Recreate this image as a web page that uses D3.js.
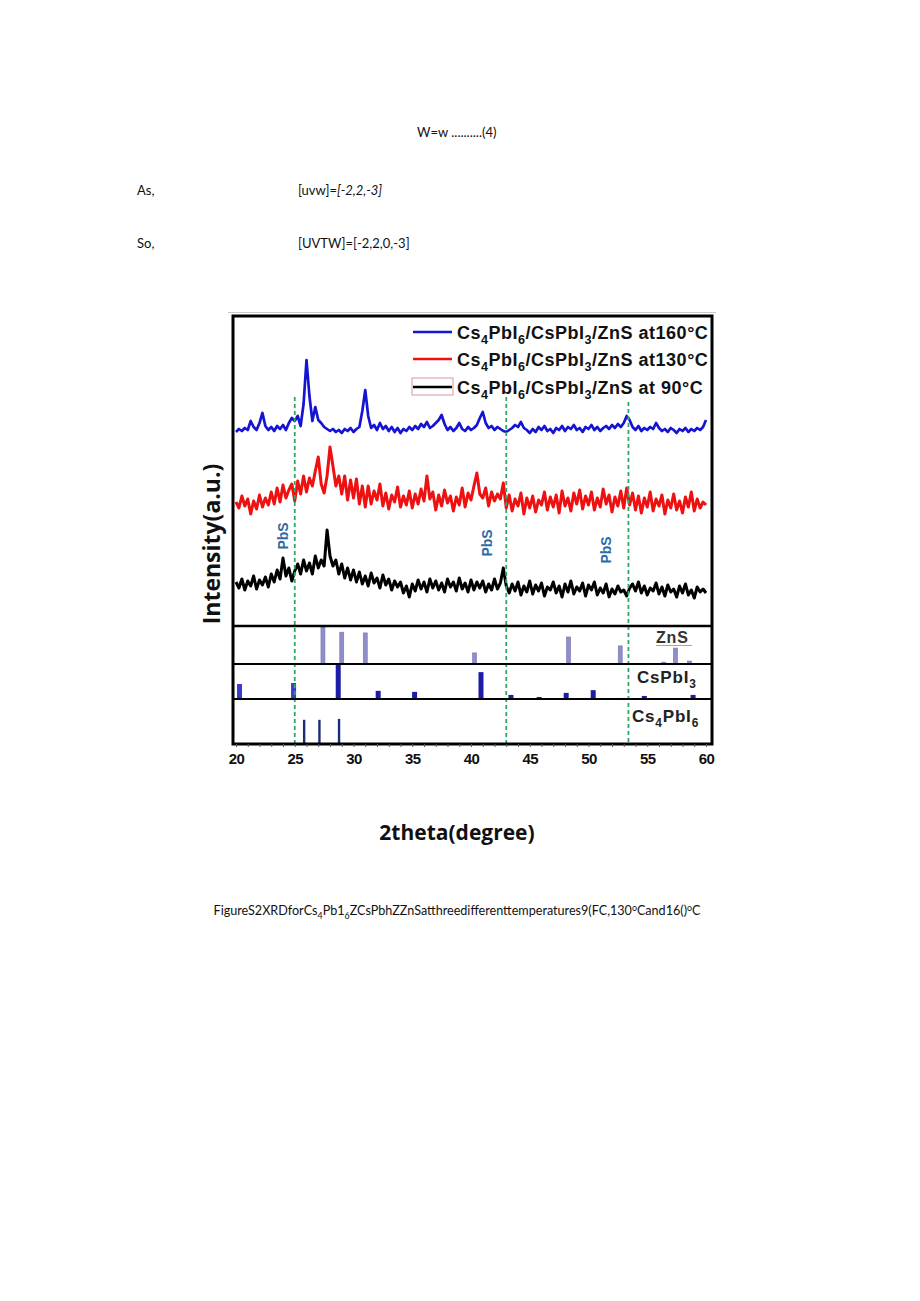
<!DOCTYPE html>
<html>
<head>
<meta charset="utf-8">
<script src="https://cdn.jsdelivr.net/npm/d3@7"></script>
<style>
  html, body { margin: 0; padding: 0; background: #ffffff; }
  svg { display: block; }
</style>
</head>
<body>
<svg id="page" width="920" height="1301"></svg>
<script>
// ---------------- DATA ----------------
const twoThetaStart = 20;
const twoThetaStep = 0.25;

// XRD traces (arbitrary intensity units, already offset for stacking)
const blue160 = [
  194,197,195,198,196,205,199,196,203,213,200,196,199,195,200,197,201,196,203,208,
  205,210,200,222,266,230,205,219,206,203,199,197,195,197,194,196,193,197,195,198,
  194,197,199,215,236,210,198,201,196,203,197,200,195,199,194,198,193,197,195,199,
  196,200,197,202,199,204,198,200,203,206,211,202,196,199,195,198,203,197,195,199,
  196,198,201,208,214,203,198,200,196,199,197,195,194,196,198,201,199,204,198,196,
  193,197,194,199,196,200,195,197,193,198,196,200,195,199,197,201,196,198,194,199,
  197,201,196,199,195,198,200,197,201,198,202,199,203,210,206,199,196,200,195,198,
  196,199,197,203,198,195,197,194,198,196,193,197,195,198,194,197,195,198,196,199,
  206
];
const red130 = [
  124,118,130,120,127,112,125,117,131,119,128,121,134,122,138,124,141,128,136,142,
  125,145,132,150,134,148,140,155,169,142,133,150,179,160,140,150,132,150,126,146,
  128,147,122,140,119,140,122,135,126,142,120,133,117,131,124,139,119,130,121,135,
  118,132,122,137,125,150,127,134,116,131,120,136,123,130,115,129,121,138,119,133,
  126,140,153,132,128,138,120,134,125,132,127,143,118,131,115,127,120,133,112,128,
  118,130,114,126,121,134,116,129,119,131,113,135,120,128,115,133,122,136,117,130,
  121,134,116,128,119,137,122,131,114,129,120,135,118,138,121,133,116,130,113,128,
  119,134,115,127,120,131,112,126,118,132,116,125,113,129,119,134,115,127,118,124,
  121
];
const black90 = [
  44,38,47,36,45,40,50,37,46,41,49,39,52,44,56,47,68,50,58,45,
  55,62,52,66,55,63,52,70,58,66,60,96,70,60,66,52,62,48,58,46,
  56,44,54,42,50,40,53,43,48,38,51,41,47,36,45,39,44,33,40,29,
  42,35,46,37,44,34,47,38,45,36,43,34,47,39,44,35,48,37,43,34,
  46,36,44,38,45,34,42,36,47,37,43,58,40,33,42,35,44,31,40,34,
  45,32,41,35,43,30,39,36,44,33,40,29,42,34,45,32,39,35,43,30,
  41,36,44,31,38,33,42,29,37,32,40,34,36,30,38,42,35,44,33,40,
  31,38,35,43,32,39,30,41,34,37,29,40,33,42,31,36,28,39,34,37,
  33
];

// Reference patterns (relative intensity, %)
const znsPos = [27.4, 29.0, 31.0, 40.3, 48.3, 52.7, 56.4, 57.4, 58.6];
const znsInt = [100, 86, 84, 30, 73, 49, 5, 43, 8];
const cspbi3Pos = [20.3, 24.9, 28.7, 32.1, 35.2, 40.85, 43.4, 45.8, 48.1, 50.4, 52.6, 54.75, 58.9];
const cspbi3Int = [44, 47, 100, 24, 21, 79, 12, 6, 18, 26, 3, 9, 12];
const cs4pbi6Pos = [25.8, 27.1, 28.77];
const cs4pbi6Int = [55, 55, 57];

const pbsLines = [25, 43, 53.4];
const pbsLabelPos = [24.0, 41.4, 51.5];
const pbsLabelY = [90, 83, 76];

const xTickLabels = [20, 25, 30, 35, 40, 45, 50, 55, 60];
const seriesNames = ["160", "130", " 90"];
const seriesColors = ["#1414d2", "#ee1111", "#000000"];

// ---------------- DRAW ----------------
const svg = d3.select("#page");

function addRich(textSel, parts, fs) {
  let cur = 0;
  parts.forEach(([str, kind]) => {
    const shift = kind === "sub" ? fs * 0.3 : kind === "sup" ? -fs * 0.35 : 0;
    const ts = textSel.append("tspan").attr("dy", shift - cur).text(str);
    if (kind) ts.attr("font-size", fs * 0.7);
    cur = shift;
  });
}

// Body text
const body = svg.append("g").attr("font-family", "Lato, 'Open Sans', sans-serif").attr("font-size", 13).attr("fill", "#111");
body.append("text").attr("x", 417).attr("y", 137).text("W=w ..........(4)");
body.append("text").attr("x", 137).attr("y", 195).text("As,");
const uvw = body.append("text").attr("x", 298).attr("y", 195);
uvw.append("tspan").text("[uvw]=");
uvw.append("tspan").attr("font-style", "italic").text("[-2,2,-3]");
body.append("text").attr("x", 137).attr("y", 248).text("So,");
body.append("text").attr("x", 298).attr("y", 248).text("[UVTW]=[-2,2,0,-3]");

// Caption
const cap = svg.append("text").attr("x", 457).attr("y", 915).attr("text-anchor", "middle")
  .attr("font-family", "Lato, 'Open Sans', sans-serif").attr("font-size", 12.6).attr("fill", "#111");
addRich(cap, [["FigureS2XRDforCs"], ["4", "sub"], ["Pb1"], ["6", "sub"],
  ["ZCsPbhZZnSatthreedifferenttemperatures9(FC,130"], ["o", "sup"], ["Cand16()"], ["o", "sup"], ["C"]], 12.6);

// Scales
const x = d3.scaleLinear().domain([20, 60]).range([236, 706]);
const yMain = d3.scaleLinear().domain([0, 310]).range([626, 316]);
const panels = [
  { top: 626, bottom: 664 },
  { top: 664, bottom: 699 },
  { top: 699, bottom: 744 }
];
const yZns = d3.scaleLinear().domain([0, 100]).range([664, 627]);
const yCs = d3.scaleLinear().domain([0, 100]).range([699, 665]);
const yCs4 = d3.scaleLinear().domain([0, 100]).range([744, 700]);

// Image top border line
svg.append("line").attr("x1", 228).attr("x2", 716).attr("y1", 312.5).attr("y2", 312.5)
  .attr("stroke", "#c9c9c9").attr("stroke-width", 1);

// Reference bars
const gBars = svg.append("g");
gBars.selectAll("rect.zns").data(znsPos).join("rect").attr("class", "zns")
  .attr("x", d => x(d) - 2).attr("width", 4)
  .attr("y", (d, i) => yZns(znsInt[i])).attr("height", (d, i) => yZns(0) - yZns(znsInt[i]))
  .attr("fill", "#8e8ec8").attr("stroke", "#7474b4").attr("stroke-width", 0.6);
gBars.selectAll("rect.cs").data(cspbi3Pos).join("rect").attr("class", "cs")
  .attr("x", d => x(d) - 2.5).attr("width", 5)
  .attr("y", (d, i) => yCs(cspbi3Int[i])).attr("height", (d, i) => yCs(0) - yCs(cspbi3Int[i]))
  .attr("fill", (d, i) => i < 2 ? "#3a3ad0" : "#1c1ca8");
gBars.selectAll("rect.cs4").data(cs4pbi6Pos).join("rect").attr("class", "cs4")
  .attr("x", d => x(d) - 1.2).attr("width", 2.4)
  .attr("y", (d, i) => yCs4(cs4pbi6Int[i])).attr("height", (d, i) => yCs4(0) - yCs4(cs4pbi6Int[i]))
  .attr("fill", "#1e2c78");

// XRD traces
const line = d3.line()
  .x((d, i) => x(twoThetaStart + i * twoThetaStep))
  .y(d => yMain(d));
const traces = [blue160, red130, black90];
svg.append("g").selectAll("path").data(traces).join("path")
  .attr("d", d => line(d))
  .attr("fill", "none")
  .attr("stroke", (d, i) => seriesColors[i])
  .attr("stroke-width", (d, i) => i === 0 ? 2.7 : 3)
  .attr("stroke-linejoin", "round");

// PbS dashed lines
svg.append("g").selectAll("line").data(pbsLines).join("line")
  .attr("x1", d => x(d)).attr("x2", d => x(d))
  .attr("y1", (d, i) => i === 2 ? 402 : 397).attr("y2", 744)
  .attr("stroke", "#2fa865").attr("stroke-width", 1.8).attr("stroke-dasharray", "4,3");

// PbS labels
svg.append("g").selectAll("text").data(pbsLabelPos).join("text")
  .attr("transform", (d, i) => `translate(${x(d) + 5},${yMain(pbsLabelY[i])}) rotate(-90)`)
  .attr("text-anchor", "middle")
  .attr("font-family", "'Liberation Sans', Arial, sans-serif").attr("font-weight", "bold")
  .attr("font-size", 14).attr("fill", "#2d6aa6").text("PbS");

// Frame and panel dividers
svg.append("rect").attr("x", 233).attr("y", 316).attr("width", 479).attr("height", 428)
  .attr("fill", "none").attr("stroke", "#000").attr("stroke-width", 3);
svg.append("g").selectAll("line").data(panels).join("line")
  .attr("x1", 233).attr("x2", 712).attr("y1", d => d.top).attr("y2", d => d.top)
  .attr("stroke", "#000").attr("stroke-width", (d, i) => i === 0 ? 2.6 : 2);

// Panel labels
const lab = svg.append("g").attr("font-family", "'Liberation Sans', Arial, sans-serif")
  .attr("font-weight", "bold").attr("fill", "#222").attr("letter-spacing", 0.8);
lab.append("text").attr("x", 656).attr("y", 643).attr("font-size", 16).attr("fill", "#333").text("ZnS");
svg.append("line").attr("x1", 656).attr("x2", 692).attr("y1", 645.5).attr("y2", 645.5)
  .attr("stroke", "#d49494").attr("stroke-width", 1);
const t2 = lab.append("text").attr("x", 637).attr("y", 683).attr("font-size", 17);
addRich(t2, [["CsPbI"], ["3", "sub"]], 17);
const t3 = lab.append("text").attr("x", 632).attr("y", 722).attr("font-size", 17);
addRich(t3, [["Cs"], ["4", "sub"], ["PbI"], ["6", "sub"]], 17);

// X axis
const axis = d3.axisBottom(x)
  .tickValues(d3.range(20, 61, 1))
  .tickSize(3).tickPadding(6)
  .tickFormat(d => xTickLabels.includes(d) ? d : "");
const gAxis = svg.append("g").attr("transform", "translate(0,744)").call(axis);
gAxis.select(".domain").remove();
gAxis.selectAll(".tick line").attr("stroke", "#555").attr("stroke-width", 1);
gAxis.selectAll(".tick text")
  .attr("font-family", "'Liberation Sans', Arial, sans-serif")
  .attr("font-weight", "bold").attr("font-size", 15).attr("letter-spacing", -0.5).attr("fill", "#111");

// Axis titles
svg.append("text").attr("x", 457).attr("y", 840).attr("text-anchor", "middle")
  .attr("font-family", "'Open Sans', sans-serif").attr("font-weight", 700).attr("font-size", 21)
  .attr("fill", "#111").text("2theta(degree)");
svg.append("text").attr("transform", "translate(220,544) rotate(-90)").attr("text-anchor", "middle")
  .attr("font-family", "'Open Sans', sans-serif").attr("font-weight", 700).attr("font-size", 23)
  .attr("fill", "#111").text("Intensity(a.u.)");

// Legend
const legY = [332, 359, 387];
const leg = svg.append("g");
leg.append("rect").attr("x", 412).attr("y", 378).attr("width", 41).attr("height", 17)
  .attr("fill", "none").attr("stroke", "#d49a9a").attr("stroke-width", 1);
leg.selectAll("line").data(seriesNames).join("line")
  .attr("x1", 413).attr("x2", 452).attr("y1", (d, i) => legY[i]).attr("y2", (d, i) => legY[i])
  .attr("stroke", (d, i) => seriesColors[i]).attr("stroke-width", 2.5);
seriesNames.forEach((nm, i) => {
  const t = leg.append("text").attr("x", 457).attr("y", legY[i] + 6.5)
    .attr("font-family", "'Liberation Sans', Arial, sans-serif").attr("font-weight", "bold")
    .attr("font-size", 18).attr("letter-spacing", 0.5).attr("fill", "#111");
  addRich(t, [["Cs"], ["4", "sub"], ["PbI"], ["6", "sub"], ["/CsPbI"], ["3", "sub"], ["/ZnS at" + nm + "°C"]], 18);
});
</script>
</body>
</html>
